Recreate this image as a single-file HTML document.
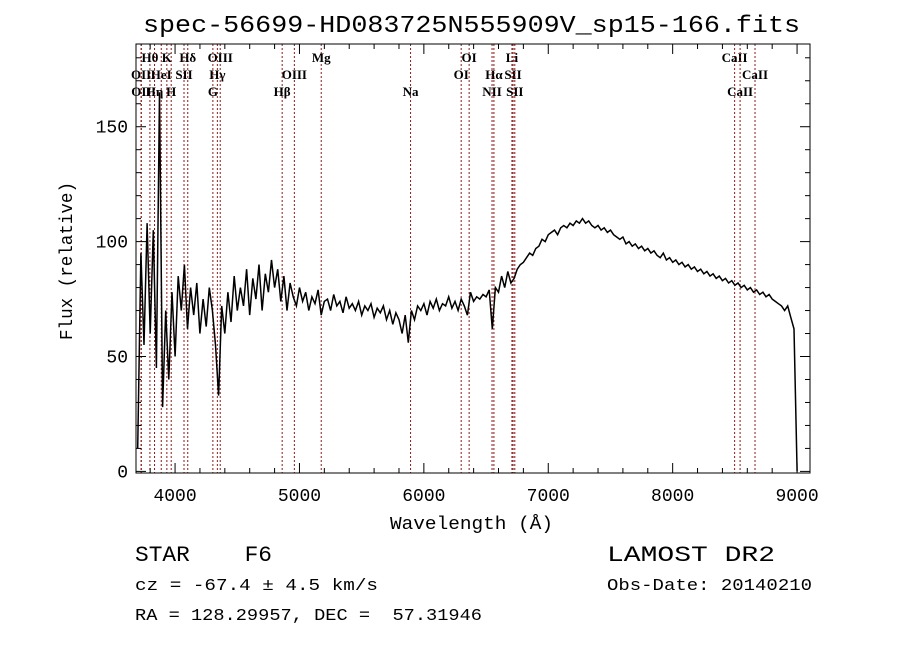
<!DOCTYPE html>
<html><head><meta charset="utf-8"><style>
body{margin:0;background:#fff;}
svg text{font-family:"Liberation Mono",monospace;fill:#000;}
.ser{font-family:"Liberation Serif",serif !important;font-size:13px;}
</style></head><body>
<svg id="c" width="900" height="649" viewBox="0 0 900 649" xmlns="http://www.w3.org/2000/svg">
<rect width="900" height="649" fill="#fff"/>
<text x="143" y="32" font-size="24" textLength="657" lengthAdjust="spacingAndGlyphs">spec-56699-HD083725N555909V_sp15-166.fits</text>
<text x="390" y="529" font-size="18" textLength="163" lengthAdjust="spacingAndGlyphs">Wavelength (Å)</text>
<text x="72" y="340" font-size="18" textLength="158" lengthAdjust="spacingAndGlyphs" transform="rotate(-90 72 340)">Flux (relative)</text>
<text x="135" y="561" font-size="22" textLength="137" lengthAdjust="spacingAndGlyphs" style="white-space:pre">STAR    F6</text>
<text x="607" y="561" font-size="22" textLength="168" lengthAdjust="spacingAndGlyphs">LAMOST DR2</text>
<text x="135" y="590" font-size="17" textLength="243" lengthAdjust="spacingAndGlyphs" style="white-space:pre">cz = -67.4 ± 4.5 km/s</text>
<text x="607" y="590" font-size="17" textLength="205" lengthAdjust="spacingAndGlyphs">Obs-Date: 20140210</text>
<text x="135" y="620" font-size="17" textLength="347" lengthAdjust="spacingAndGlyphs" style="white-space:pre">RA = 128.29957, DEC =  57.31946</text>
<g id="g"></g>
</svg>
<script>
const xTicks=[4000,5000,6000,7000,8000,9000];
const yTicks=[0,50,100,150];
const waveStart=3700, waveStep=25;
const flux=[10,95,55,108,60,105,45,165,28,70,40,
78,50,85,70,90,62,80,68,82,60,
75,63,80,70,55,33,72,60,78,65,
85,70,80,72,88,68,84,75,90,70,
86,78,92,80,88,74,85,70,82,76,
72,80,74,78,70,76,73,79,68,74,
75,70,77,72,74,69,76,71,73,70,
74,68,72,70,73,67,71,69,72,66,
70,64,69,66,60,68,56,70,66,72,
70,73,68,74,71,75,70,73,72,76,
71,74,70,75,72,68,78,74,76,75,
77,76,79,62,80,78,85,80,87,82,
84,88,90,91,93,95,94,97,98,101,
100,103,104,105,103,106,107,106,108,107,
109,108,110,108,109,107,106,107,105,106,
104,105,103,102,101,102,99,100,98,99,
97,98,96,97,95,96,94,93,95,92,
93,91,92,90,91,89,90,88,89,87,
88,86,87,85,86,84,85,83,84,82,
83,81,82,80,81,79,80,78,79,77,
78,76,77,75,74,73,72,70,
72,67,62,0];
const lineWaves=[3798,3934,4102,4363,5175,6364,6708,8498,3727,3889,4072,4340,4959,6300,6563,6717,8662,3729,3835,3969,4304,4861,5893,6548,6731,8542];
const lineLabels=["Hθ","K","Hδ","OIII","Mg","OI","Li","CaII","OII","HeI","SII","Hγ","OIII","OI","Hα","SII","CaII","OII","Hη","H","G","Hβ","Na","NII","SII","CaII"];
const lineRows=[0,0,0,0,0,0,0,0,1,1,1,1,1,1,1,1,1,2,2,2,2,2,2,2,2,2];

const L=136,R=810,T=44,B=473, X0=3686,X1=9104,Y0=-0.7,Y1=186;
const sx=w=>L+(w-X0)/(X1-X0)*(R-L);
const sy=f=>B-(f-Y0)/(Y1-Y0)*(B-T);
const g=document.getElementById('g');
const NS='http://www.w3.org/2000/svg';
function mk(t,a){const e=document.createElementNS(NS,t);for(const k in a)e.setAttribute(k,a[k]);g.appendChild(e);return e;}

lineWaves.forEach((w,i)=>{
  const x=sx(w);
  const l=mk('line',{x1:x,x2:x,y1:T,y2:B,stroke:'#8b1a1a','stroke-width':1,'stroke-dasharray':'2,2'});
  
  
  const t=mk('text',{x:x,y:62+lineRows[i]*17,'text-anchor':'middle',class:'ser','font-weight':'bold'});
  t.textContent=lineLabels[i];
  
  
});

let d='';
flux.forEach((f,i)=>{const x=sx(waveStart+i*waveStep),y=sy(f);d+=(i?'L':'M')+x.toFixed(1)+','+y.toFixed(1);});
const p=mk('path',{d:d,fill:'none',stroke:'#000','stroke-width':1.5});



const fr=mk('rect',{x:L,y:T,width:R-L,height:B-T,fill:'none',stroke:'#000','stroke-width':1});



for(let w=3800;w<=9100;w+=200){
  const x=sx(w),maj=w%1000===0,len=maj?10:5;
  mk('line',{x1:x,x2:x,y1:B,y2:B-len,stroke:'#000'});
  mk('line',{x1:x,x2:x,y1:T,y2:T+len,stroke:'#000'});
}
xTicks.forEach(w=>{const t=mk('text',{x:sx(w),y:501,'font-size':18,'text-anchor':'middle'});t.textContent=w;
  
  });
for(let v=0;v<=180;v+=10){
  const y=sy(v),maj=v%50===0,len=maj?10:5;
  mk('line',{x1:L,x2:L+len,y1:y,y2:y,stroke:'#000'});
  mk('line',{x1:R,x2:R-len,y1:y,y2:y,stroke:'#000'});
}
yTicks.forEach(v=>{const t=mk('text',{x:128,y:sy(v)+6,'font-size':18,'text-anchor':'end'});t.textContent=v;
  
  });
</script>
</body></html>
